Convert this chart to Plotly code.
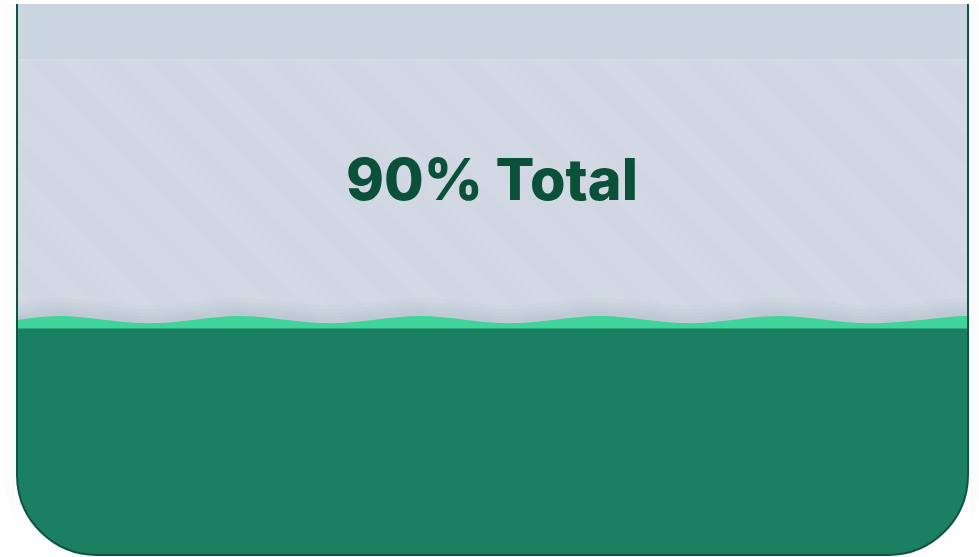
import plotly.graph_objects as go

# ---- data ----
fill_value = 90                       # percent filled
label_text = "90% Total"
top_band_level = 100                  # level of the upper band boundary
base_level = 89.75                    # top of the deep (dark) liquid layer
wave_x = [0, 4.5, 14.0, 23.4, 32.9, 42.4, 51.8, 61.3, 70.8, 80.2, 89.7, 99.2, 100]
wave_y = [90.08, 90.23, 89.95, 90.23, 89.95, 90.23, 89.95, 90.23, 89.95, 90.23, 89.95, 90.23, 90.23]

# ---- geometry / styles ----
W, H = 979, 557
L, R, T, B = 17, 968, 4, 555
PX_PER_UNIT = 26.2
Y_AT_100 = 60
y_top = top_band_level + (Y_AT_100 - T) / PX_PER_UNIT
y_bot = top_band_level - (B - Y_AT_100) / PX_PER_UNIT
unit_px = (B - T) / (y_top - y_bot)

C_TOPBAND = "#cbd5e0"
C_STRIPE_BG = "#d0d7e3"
C_STRIPE_FG = "#d4dbe6"
C_WAVE = "#40d39a"
C_DEEP = "#1b7f62"
C_TEXT = "#0b513a"
C_BORDER = "#0f5543"

fig = go.Figure()

# striped empty region
fig.add_trace(go.Scatter(
    x=[0, 100, 100, 0, 0], y=[top_band_level, top_band_level, base_level - 1, base_level - 1, top_band_level],
    mode="lines", line=dict(width=0), fill="toself", fillcolor=C_STRIPE_BG,
    fillpattern=dict(shape="\\", size=42, solidity=0.45, fgcolor=C_STRIPE_FG, bgcolor=C_STRIPE_BG),
    hoverinfo="skip", showlegend=False))

# soft shadow above the liquid surface
for off_px in [18, 14, 10, 7, 4]:
    fig.add_trace(go.Scatter(
        x=wave_x, y=[v + off_px / unit_px for v in wave_y],
        mode="lines", line=dict(width=0, shape="spline", smoothing=1),
        fill="tozeroy", fillcolor="rgba(110,135,140,0.035)",
        hoverinfo="skip", showlegend=False))

# wave surface
fig.add_trace(go.Scatter(
    x=wave_x, y=wave_y, mode="lines",
    line=dict(width=0, shape="spline", smoothing=1, color=C_WAVE),
    fill="tozeroy", fillcolor=C_WAVE, hoverinfo="skip", showlegend=False))

# deep liquid
fig.add_trace(go.Scatter(
    x=[0, 100], y=[base_level, base_level], mode="lines",
    line=dict(width=0, color=C_DEEP), fill="tozeroy", fillcolor=C_DEEP,
    hoverinfo="skip", showlegend=False))

# band boundary line
fig.add_trace(go.Scatter(
    x=[0, 100], y=[top_band_level, top_band_level], mode="lines",
    line=dict(width=1.5, color="#d7dfe7"), hoverinfo="skip", showlegend=False))


def px2paper(x, y):
    return (x - L) / (R - L), (B - y) / (B - T)


def path(points_cmds):
    out = []
    for cmd, pts in points_cmds:
        coords = []
        for (x, y) in pts:
            px, py = px2paper(x, y)
            coords.append(f"{px:.5f},{py:.5f}")
        out.append(cmd + " ".join(coords))
    return " ".join(out)


r = 80
k = 0.5523

shapes = []
# outer soft shadow
for o in [1.5, 3, 4.5, 6, 8, 10, 12]:
    rr = r + o
    p = path([
        ("M", [(L - o, T)]),
        ("L", [(L - o, B - r)]),
        ("C", [(L - o, B - r + k * rr), (L + r - k * rr, B + o), (L + r, B + o)]),
        ("L", [(R - r, B + o)]),
        ("C", [(R - r + k * rr, B + o), (R + o, B - r + k * rr), (R + o, B - r)]),
        ("L", [(R + o, T)]),
    ])
    shapes.append(dict(type="path", path=p, xref="paper", yref="paper",
                       line=dict(color="rgba(0,0,0,0.012)", width=2.5), layer="above"))

# corner masks (white outside the rounded corners)
p = path([
    ("M", [(L - 2, B - r)]), ("L", [(L, B - r)]),
    ("C", [(L, B - r + k * r), (L + r - k * r, B), (L + r, B)]),
    ("L", [(L + r, B + 2)]), ("L", [(L - 2, B + 2)]), ("Z", [])])
shapes.append(dict(type="path", path=p, xref="paper", yref="paper",
                   fillcolor="white", line=dict(width=0), layer="above"))
p = path([
    ("M", [(R + 2, B - r)]), ("L", [(R, B - r)]),
    ("C", [(R, B - r + k * r), (R - r + k * r, B), (R - r, B)]),
    ("L", [(R - r, B + 2)]), ("L", [(R + 2, B + 2)]), ("Z", [])])
shapes.append(dict(type="path", path=p, xref="paper", yref="paper",
                   fillcolor="white", line=dict(width=0), layer="above"))

# container outline
p = path([
    ("M", [(L, T)]),
    ("L", [(L, B - r)]),
    ("C", [(L, B - r + k * r), (L + r - k * r, B), (L + r, B)]),
    ("L", [(R - r, B)]),
    ("C", [(R - r + k * r, B), (R, B - r + k * r), (R, B - r)]),
    ("L", [(R, T)]),
])
shapes.append(dict(type="path", path=p, xref="paper", yref="paper",
                   line=dict(color=C_BORDER, width=2), layer="above"))

fig.update_layout(
    width=W, height=H,
    margin=dict(l=L, r=W - R, t=T, b=H - B, pad=0),
    paper_bgcolor="white", plot_bgcolor=C_TOPBAND,
    xaxis=dict(range=[0, 100], visible=False, fixedrange=True),
    yaxis=dict(range=[y_bot, y_top], visible=False, fixedrange=True),
    shapes=shapes,
    annotations=[dict(
        text=label_text, x=0.4995, y=(B - 179) / (B - T), xref="paper", yref="paper",
        xanchor="center", yanchor="middle", showarrow=False,
        font=dict(family="Inter", size=57.5, color=C_TEXT, weight=800))],
    showlegend=False,
)

fig.write_html("out.html", config={"displayModeBar": False},
               post_script="document.body.style.margin='0px';")
